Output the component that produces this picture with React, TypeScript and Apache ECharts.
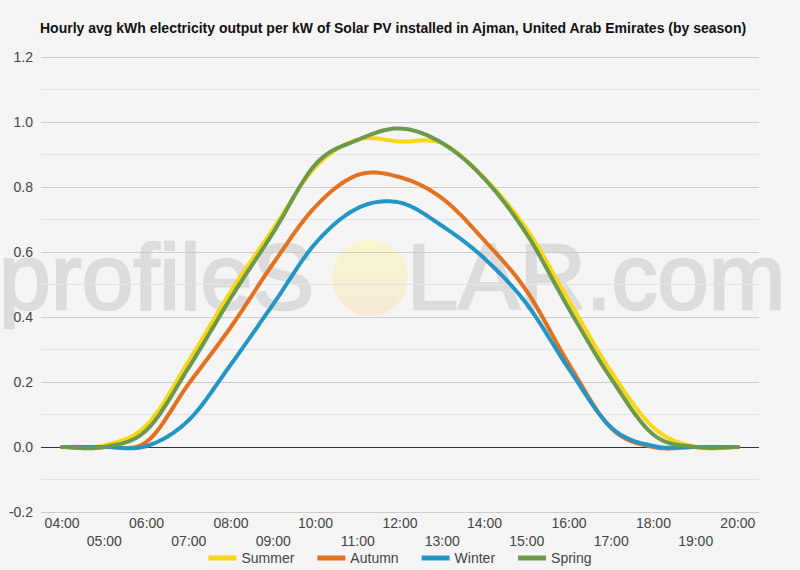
import React, { useEffect, useRef } from "react";
import * as echarts from "echarts";

const TITLE =
  "Hourly avg kWh electricity output per kW of Solar PV installed in Ajman, United Arab Emirates (by season)";

const hours = [
  "04:00", "05:00", "06:00", "07:00", "08:00", "09:00", "10:00", "11:00", "12:00",
  "13:00", "14:00", "15:00", "16:00", "17:00", "18:00", "19:00", "20:00",
];

const summer = [0, 0.005, 0.067, 0.265, 0.48, 0.672, 0.862, 0.946, 0.94, 0.934, 0.827, 0.67, 0.45, 0.232, 0.06, 0, 0];
const autumn = [0, 0, 0.016, 0.195, 0.37, 0.565, 0.74, 0.837, 0.83, 0.765, 0.635, 0.48, 0.255, 0.058, 0, 0, 0];
const winter = [0, 0, 0.003, 0.083, 0.255, 0.44, 0.627, 0.735, 0.752, 0.68, 0.58, 0.44, 0.24, 0.06, 0.003, 0, 0];
const spring = [0, 0, 0.052, 0.245, 0.46, 0.66, 0.87, 0.945, 0.98, 0.935, 0.825, 0.655, 0.425, 0.21, 0.038, 0, 0];

const seriesNames = ["Summer", "Autumn", "Winter", "Spring"];
const seriesData = [summer, autumn, winter, spring];
const colors = ["#f9d616", "#e3711f", "#2496c6", "#6b9a4d"];

const FONT = "'Liberation Sans', Arial, sans-serif";
const WM = "#dcdcdc";

// Catmull-Rom spline through pixel points, sampled into a polyline
function splinePoints(pts: number[][], steps = 16): number[][] {
  const out: number[][] = [];
  const n = pts.length;
  for (let i = 0; i < n - 1; i++) {
    const p0 = pts[Math.max(0, i - 1)];
    const p1 = pts[i];
    const p2 = pts[i + 1];
    const p3 = pts[Math.min(n - 1, i + 2)];
    const c1 = [p1[0] + (p2[0] - p0[0]) / 6, p1[1] + (p2[1] - p0[1]) / 6];
    const c2 = [p2[0] - (p3[0] - p1[0]) / 6, p2[1] - (p3[1] - p1[1]) / 6];
    for (let s = 0; s < steps; s++) {
      const t = s / steps;
      const u = 1 - t;
      const a = u * u * u, b = 3 * u * u * t, c = 3 * u * t * t, d = t * t * t;
      out.push([
        a * p1[0] + b * c1[0] + c * c2[0] + d * p2[0],
        a * p1[1] + b * c1[1] + c * c2[1] + d * p2[1],
      ]);
    }
  }
  out.push(pts[n - 1]);
  return out;
}

export default function App() {
  const ref = useRef<HTMLDivElement>(null);

  useEffect(() => {
    if (!ref.current) return;
    const chart = echarts.init(ref.current, null, { renderer: "svg" });
    const option: any = {
      animation: false,
      backgroundColor: "#f5f5f5",
      textStyle: { fontFamily: FONT },
      title: {
        text: TITLE,
        left: 40,
        top: 20,
        padding: 0,
        textStyle: {
          fontFamily: FONT,
          fontSize: 14,
          fontWeight: "bold",
          color: "#111",
          lineHeight: 16,
        },
      },
      grid: { left: 41, right: 41, top: 57, bottom: 58 },
      xAxis: {
        type: "category",
        data: hours,
        boundaryGap: true,
        axisLine: { show: false },
        axisTick: { show: false },
        splitLine: { show: false },
        axisLabel: {
          interval: 0,
          hideOverlap: false,
          margin: 2,
          fontSize: 14,
          color: "#444",
          lineHeight: 18,
          fontFamily: FONT,
          formatter: (v: string, i: number) => (i % 2 === 0 ? v : "\n" + v),
        },
      },
      yAxis: {
        type: "value",
        min: -0.2,
        max: 1.2,
        interval: 0.2,
        axisLine: { show: false },
        axisTick: { show: false },
        axisLabel: {
          fontSize: 14,
          color: "#444",
          margin: 8,
          fontFamily: FONT,
          formatter: (v: number) => (Math.abs(v) < 1e-9 ? "0.0" : v.toFixed(1)),
        },
        splitLine: {
          lineStyle: {
            color: ["#cccccc", "#333333", "#cccccc", "#cccccc", "#cccccc", "#cccccc", "#cccccc", "#cccccc"],
            width: 1,
          },
        },
        minorTick: { show: false, splitNumber: 2 },
        minorSplitLine: { show: true, lineStyle: { color: "#e4e4e4", width: 1 } },
      },
      legend: {
        data: seriesNames,
        left: "center",
        top: 551,
        padding: 0,
        itemWidth: 28,
        itemHeight: 5,
        itemGap: 23,
        icon: "rect",
        textStyle: { fontSize: 14, color: "#444", fontFamily: FONT },
      },
      graphic: {
        elements: [
          {
            type: "text",
            z: -10,
            silent: true,
            x: -1,
            y: 277,
            style: {
              text: "profileS",
              font: `93px ${FONT}`,
              fill: WM,
              stroke: WM,
              lineWidth: 2.5,
              verticalAlign: "middle",
              align: "left",
            },
          },
          {
            type: "circle",
            z: -10,
            silent: true,
            shape: { cx: 370, cy: 278, r: 38 },
            style: {
              fill: new echarts.graphic.LinearGradient(0, 0, 0, 1, [
                { offset: 0, color: "#f8f7cd" },
                { offset: 1, color: "#f6e9d8" },
              ]),
            },
          },
          {
            type: "text",
            z: -10,
            silent: true,
            x: 407,
            y: 277,
            style: {
              text: "LAR.com",
              font: `92px ${FONT}`,
              fill: WM,
              stroke: WM,
              lineWidth: 2.5,
              verticalAlign: "middle",
              align: "left",
            },
          },
        ],
      },
      series: seriesNames.map((name, i) => {
        const arr = seriesData[i];
        return {
          name,
          type: "custom",
          coordinateSystem: "cartesian2d",
          color: colors[i],
          itemStyle: { color: colors[i] },
          z: 3,
          encode: { x: 0, y: 1 },
          data: arr.map((v, j) => [j, v]),
          renderItem: (params: any, api: any) => {
            if (params.dataIndex !== 0) return null;
            const pts = arr.map((v, j) => api.coord([j, v]));
            return {
              type: "polyline",
              silent: true,
              shape: { points: splinePoints(pts) },
              style: {
                stroke: colors[i],
                lineWidth: 4,
                fill: null,
                lineJoin: "round",
                lineCap: "round",
              },
            };
          },
        };
      }),
    };
    chart.setOption(option);
    return () => chart.dispose();
  }, []);

  return (
    <div
      ref={ref}
      style={{ position: "absolute", left: 0, top: 0, width: 800, height: 570 }}
    />
  );
}
